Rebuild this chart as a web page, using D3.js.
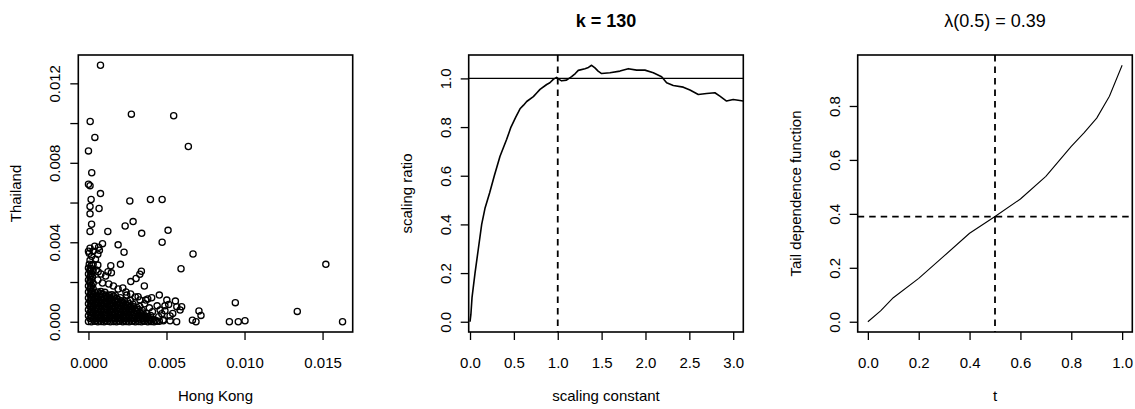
<!DOCTYPE html>
<html>
<head>
<meta charset="utf-8">
<script src="https://cdn.jsdelivr.net/npm/d3@7"></script>
<style>
    body { margin: 0; background: #fff; }
    svg text { font-family: "Liberation Sans", Arial, sans-serif; fill: #000; }
</style>
</head>
<body>
<svg id="chart" width="1135" height="409"></svg>
<script>

// ---- panel 1: scatter of daily losses, [Hong Kong, Thailand]
const hkOutliers = [
    [.00077,.01291],[.00275,.01045],[.00546,.01037],[.00011,.01008],[.00041,.00928],[.0064,.00882],
    [0,.0086],[.00021,.0075],[0,.00692],[.0001,.00685],[.00077,.00645],[.00017,.00615],[.00265,.00608],
    [.00397,.00615],[.00472,.00615],[.0001,.0058],[.00068,.0057],[.0001,.00543],[.00286,.00504],
    [.0002,.00491],[.00235,.00482],[.0001,.00454],[.00124,.00454],[.0051,.0046],[.00341,.00445],
    [.00472,.004],[.0009,.00393],[.0019,.00387],[.0067,.00341],[.00228,.0035],[.00593,.00267],
    [.01521,.00289],[.00205,.00289],[.00143,.00282],[.00339,.00254],[.00271,.00202],[.00305,.00218],
    [.00329,.00239],[.00358,.0018],[.00941,.00096],[.01338,.00052],[.01628,0],[.01003,.00005],
    [.0096,0],[.00903,0],[.00708,.00054],[.00721,.00032],[.00666,.00008],[.00689,0],[.00597,.00076],
    [.00557,.00104],[.00514,.00087],[.00454,.00134],[.00565,0],[.00523,.00005],[.0048,.00005],
    [.00454,.00003],[.00245,.00134],[.00318,.00126],[.00405,.00121],[.00367,.00109],[.00587,.00059],
    [.00523,.00029],[.0054,.00042],[.00125,.00252],[.00147,.00246],[.00062,.00252],
    [.00459,.00059],[.00502,.00109],[.00566,.00076],[.0049,.0008]
];

// the dense mass near the origin
const hkBlob = [
    [0,.00001],[.00019,0],[.00041,.00002],[.0006,0],[.00081,.00001],[.001,0],[.00121,.00002],[.0014,0],
    [.00161,.00001],[.0018,0],[.00199,.00002],[.0022,0],[.00241,.00001],[.0026,0],[.00279,.00002],[.003,0],
    [.00321,.00001],[.0034,0],[.00359,.00002],[.0038,0],[.00401,.00001],[.0042,0],[.00438,.00002],
    [.0001,.00016],[.0003,.00014],[.00052,.00016],[.0007,.00015],[.00091,.00013],[.0011,.00016],[.0013,.00015],
    [.00151,.00014],[.0017,.00016],[.0019,.00015],[.0021,.00013],[.0023,.00016],[.0025,.00015],[.0027,.00014],
    [.0029,.00016],[.0031,.00015],[.00331,.00013],[.0035,.00016],[.0037,.00015],[.0039,.00014],[.0041,.00012],
    [.00428,.00008],
    [0,.0003],[.0002,.00031],[.0004,.00029],[.00061,.0003],[.0008,.00032],[.001,.0003],[.0012,.00029],
    [.0014,.00031],[.0016,.0003],[.0018,.00028],[.002,.00031],[.0022,.0003],[.0024,.00029],[.0026,.00031],
    [.0028,.0003],[.003,.00028],[.0032,.00031],[.0034,.0003],[.0036,.00029],[.0038,.00027],[.00398,.00031],
    [.0001,.00045],[.0003,.00046],[.0005,.00044],[.0007,.00045],[.0009,.00047],[.0011,.00045],[.0013,.00044],
    [.0015,.00046],[.0017,.00045],[.0019,.00043],[.0021,.00046],[.0023,.00045],[.0025,.00044],[.0027,.00046],
    [.0029,.00045],[.0031,.00043],[.0033,.00046],[.0035,.00044],[.00372,.00042],
    [0,.0006],[.0002,.00061],[.0004,.00059],[.0006,.0006],[.0008,.00062],[.001,.0006],[.0012,.00059],
    [.0014,.00061],[.0016,.0006],[.0018,.00058],[.002,.00061],[.0022,.0006],[.0024,.00059],[.0026,.00061],
    [.0028,.0006],[.003,.00058],[.0032,.00061],[.00345,.00057],
    [.0001,.00075],[.0003,.00076],[.0005,.00074],[.0007,.00075],[.0009,.00077],[.0011,.00075],[.0013,.00074],
    [.0015,.00076],[.0017,.00075],[.0019,.00073],[.0021,.00076],[.0023,.00075],[.0025,.00074],[.0027,.00076],
    [.0029,.00075],[.0031,.00072],[.00328,.00077],
    [0,.0009],[.0002,.00091],[.0004,.00089],[.0006,.0009],[.0008,.00092],[.001,.0009],[.0012,.00089],
    [.0014,.00091],[.0016,.0009],[.0018,.00088],[.002,.00091],[.0022,.0009],[.0024,.00089],[.0026,.00091],
    [.00285,.00088],
    [.0001,.00105],[.0003,.00106],[.0005,.00104],[.0007,.00105],[.0009,.00107],[.0011,.00105],[.0013,.00104],
    [.0015,.00106],[.0017,.00105],[.0019,.00103],[.0021,.00106],[.0023,.00105],[.0025,.00102],[.00268,.00107],
    [0,.0012],[.0002,.00121],[.0004,.00119],[.0006,.0012],[.0008,.00122],[.001,.0012],[.0012,.00119],
    [.0014,.00121],[.0016,.0012],[.0018,.00118],[.00205,.00121],
    [.0001,.00135],[.0003,.00136],[.0005,.00134],[.0007,.00135],[.0009,.00137],[.0011,.00135],[.0013,.00134],
    [.0015,.00136],[.00172,.00133],
    [0,.0015],[.0002,.00151],[.0004,.00149],[.0006,.0015],[.0008,.00152],[.00105,.00148],
    [.0001,.00165],[.0003,.00166],[0,.0018],[.0002,.00181],[.0001,.00195],[.0003,.00194],[0,.0021],
    [.0002,.00211],[.0001,.00225],[.00025,.00226],[0,.0024],[.0002,.00241],[.0001,.00255],[.0003,.00257],
    [0,.0027],[.00018,.00268],
    [.00005,.0029],[.0003,.0029],[.0006,.00285],[.0001,.0031],[.00045,.00315],[.0002,.0033],[.0006,.0034],
    [.00005,.00345],[.0003,.00355],[.0007,.0036],[.0001,.0037],[.0004,.0038],[.00065,.00375],[0,.00355],
    [.0005,.0026],[.0008,.0024],[.0011,.0023],[.0006,.0021],[.0009,.00195],[.0013,.0019],[.0016,.0018],
    [.0019,.00165],[.0022,.0017],[.0024,.0015],[.0027,.0014],[.003,.00125],[.0033,.0011],[.0036,.0009],
    [.0039,.0007],[.0041,.0005],[.0038,.00115],[.0045,.00025],[.0047,.0004],[.0044,.0008],[.0049,.00055],
    [.0048,.0001],
    // in between the rows above
    [.0005,.00008],[.0011,.00007],[.0017,.00009],[.0023,.00008],[.0029,.00007],[.0035,.00009],[.00392,.00008],
    [.0002,.00023],[.0008,.00022],[.0014,.00024],[.002,.00023],[.0026,.00022],[.0032,.00024],[.0037,.00022],
    [.0005,.00038],[.0011,.00037],[.0017,.00039],[.0023,.00038],[.0029,.00037],[.0034,.00039],
    [.0002,.00053],[.0008,.00052],[.0014,.00054],[.002,.00053],[.0026,.00052],[.0031,.00054],
    [.0005,.00068],[.0011,.00067],[.0017,.00069],[.0023,.00068],[.0028,.00066],
    [.0002,.00083],[.0008,.00082],[.0014,.00084],[.002,.00083],[.0025,.00081],
    [.0005,.00098],[.0011,.00097],[.0017,.00099],[.0022,.00097],
    [.0002,.00113],[.0008,.00112],[.0014,.00114],[.0019,.00112],
    [.0005,.00128],[.0011,.00127],[.0016,.00129],
    [.0002,.00143],[.0008,.00142],
    [.00015,.00173],[.0001,.00203],[.00015,.00233],[.0001,.00262],[.0002,.00285]
];
const hkTicks = [0, .005, .010, .015];
const thaiTicks = [0, .002, .004, .006, .008, .010, .012];
const thaiLabels = [0, .004, .008, .012];

// ---- panel 2: scaling ratio against scaling constant
const scaleConst = [0, .01, .023, .057, .095, .133, .17, .224, .277, .342, .418, .467, .52, .57, .61, .646,
    .722, .76, .798, .874, .91, .949, .987, 1.02, 1.044, 1.10, 1.158, 1.2, 1.234, 1.31, 1.35, 1.386, 1.424,
    1.46, 1.5, 1.595, 1.709, 1.804, 1.899, 1.994, 2.089, 2.184, 2.241, 2.317, 2.431, 2.507, 2.602, 2.697,
    2.791, 2.848, 2.924, 3.0, 3.114];
const scaleRatio = [0, .03, .1, .2, .3, .4, .465, .53, .6, .68, .75, .8, .84, .875, .89, .905,
    .925, .94, .955, .975, .982, .996, 1.004, .995, .99, .993, 1.007, 1.02, 1.033, 1.04, 1.045, 1.054, 1.043,
    1.03, 1.02, 1.023, 1.03, 1.04, 1.034, 1.034, 1.023, 1.007, .982, .971, .964, .952, .934, .938,
    .941, .927, .907, .913, .907];
const scaleXTicks = [0, .5, 1, 1.5, 2, 2.5, 3];
const scaleYTicks = [0, .2, .4, .6, .8, 1];
const kUsed = 130;

// ---- panel 3: tail dependence function
const tGrid = [0, .05, .1, .2, .3, .4, .5, .6, .7, .8, .85, .9, .95, 1.0];
const tailDep = [0, .04, .089, .161, .244, .328, .39, .455, .539, .65, .70, .755, .836, .951];
const tTicks = [0, .2, .4, .6, .8, 1];
const tailTicks = [0, .2, .4, .6, .8];
const lambdaHalf = .39;


class Panel {

    constructor(svg, box, xDomain, yDomain) {

        this.box = box;
        this.g = svg.append("g");
        this.x = d3.scaleLinear().domain(xDomain).range([box.left, box.right]);
        this.y = d3.scaleLinear().domain(yDomain).range([box.bottom, box.top]);

    }

    // R style 4% padding
    static pad(ext) {
        let r = ext[1] - ext[0];
        return [ext[0] - .04 * r, ext[1] + .04 * r];
    }

    drawAxes(xTicks, yTicks, fmt, yShown) {

        let yFmt = yShown ? (d => yShown.includes(d) ? fmt.y(d) : "") : fmt.y;

        this.g.append("g")
            .attr("transform", `translate(0,${this.box.bottom})`)
            .call(d3.axisBottom(this.x).tickValues(xTicks).tickSize(8).tickFormat(fmt.x))
            .attr("font-size", 15)
            .call(g => g.select(".domain").remove())
            .call(g => g.selectAll("line").attr("stroke", "#000").attr("stroke-width", 1.3))
            .call(g => g.selectAll("text").attr("y", 36).attr("dy", null));

        this.g.append("g")
            .attr("transform", `translate(${this.box.left},0)`)
            .call(d3.axisLeft(this.y).tickValues(yTicks).tickSize(8).tickFormat(yFmt))
            .attr("font-size", 15)
            .call(g => g.select(".domain").remove())
            .call(g => g.selectAll("line").attr("stroke", "#000").attr("stroke-width", 1.3))
            .call(g => g.selectAll("text")
                .attr("x", null)
                .attr("dy", null)
                .attr("text-anchor", "middle")
                .attr("transform", "translate(-18,0) rotate(-90)"));

    }

    drawFrame() {

        let b = this.box;
        this.g.append("rect")
            .attr("x", b.left)
            .attr("y", b.top)
            .attr("width", b.right - b.left)
            .attr("height", b.bottom - b.top)
            .attr("fill", "none")
            .attr("stroke", "#000")
            .attr("stroke-width", 1.6);

    }

    drawLabels(xTitle, yTitle, title, bold) {

        let b = this.box,
            cx = (b.left + b.right) / 2,
            cy = (b.top + b.bottom) / 2;

        this.g.append("text")
            .attr("x", cx)
            .attr("y", b.bottom + 69)
            .attr("text-anchor", "middle")
            .attr("font-size", 15)
            .text(xTitle);

        this.g.append("text")
            .attr("transform", `translate(${b.left - 57},${cy}) rotate(-90)`)
            .attr("text-anchor", "middle")
            .attr("font-size", 15)
            .text(yTitle);

        if (title) {
            this.g.append("text")
                .attr("x", cx)
                .attr("y", 26.5)
                .attr("text-anchor", "middle")
                .attr("font-size", 18)
                .attr("font-weight", bold ? "bold" : "normal")
                .text(title);
        }

    }

    hline(v, dashed) {
        this.g.append("line")
            .attr("x1", this.box.left).attr("x2", this.box.right)
            .attr("y1", this.y(v)).attr("y2", this.y(v))
            .attr("stroke", "#000")
            .attr("stroke-width", dashed ? 1.8 : 1.4)
            .attr("stroke-dasharray", dashed ? "6.5,5" : null);
    }

    vline(v, dashed) {
        this.g.append("line")
            .attr("y1", this.box.top).attr("y2", this.box.bottom)
            .attr("x1", this.x(v)).attr("x2", this.x(v))
            .attr("stroke", "#000")
            .attr("stroke-width", dashed ? 1.8 : 1.4)
            .attr("stroke-dasharray", dashed ? "6.5,5" : null);
    }

    drawLine(xs, ys, width) {
        let line = d3.line()
            .x(i => this.x(xs[i]))
            .y(i => this.y(ys[i]));
        this.g.append("path")
            .attr("d", line(d3.range(xs.length)))
            .attr("fill", "none")
            .attr("stroke", "#000")
            .attr("stroke-width", width)
            .attr("stroke-linejoin", "round");
    }

}


const svg = d3.select("#chart");
const top_ = 55, bottom_ = 332;

// ---- scatter
const hkPoints = hkOutliers.concat(hkBlob);
const p1 = new Panel(svg,
    { left: 78.3, right: 352.7, top: top_, bottom: bottom_ },
    Panel.pad(d3.extent(hkPoints, d => d[0])),
    Panel.pad(d3.extent(hkPoints, d => d[1])));

p1.g.append("g")
    .selectAll("circle")
    .data(hkPoints)
    .enter()
    .append("circle")
        .attr("cx", d => p1.x(d[0]))
        .attr("cy", d => p1.y(d[1]))
        .attr("r", 3.1)
        .attr("fill", "none")
        .attr("stroke", "#000")
        .attr("stroke-width", 1.3);

p1.drawAxes(hkTicks, thaiTicks, { x: d3.format(".3f"), y: d3.format(".3f") }, thaiLabels);
p1.drawFrame();
p1.drawLabels("Hong Kong", "Thailand");

// ---- scaling ratio
const p2 = new Panel(svg,
    { left: 468.7, right: 743.3, top: top_, bottom: bottom_ },
    [-.015, 3.115],
    Panel.pad(d3.extent(scaleRatio)));

p2.hline(1, false);
p2.vline(1, true);
p2.drawLine(scaleConst, scaleRatio, 1.6);
p2.drawAxes(scaleXTicks, scaleYTicks, { x: d3.format(".1f"), y: d3.format(".1f") });
p2.drawFrame();
p2.drawLabels("scaling constant", "scaling ratio", `k = ${kUsed}`, true);

// ---- tail dependence
const p3 = new Panel(svg,
    { left: 857.7, right: 1132.3, top: top_, bottom: bottom_ },
    Panel.pad(d3.extent(tGrid)),
    Panel.pad(d3.extent(tailDep)));

p3.vline(.5, true);
p3.hline(lambdaHalf, true);
p3.drawLine(tGrid, tailDep, 1.1);
p3.drawAxes(tTicks, tailTicks, { x: d3.format(".1f"), y: d3.format(".1f") });
p3.drawFrame();
p3.drawLabels("t", "Tail dependence function", `λ(0.5) = ${lambdaHalf}`, false);

</script>
</body>
</html>
